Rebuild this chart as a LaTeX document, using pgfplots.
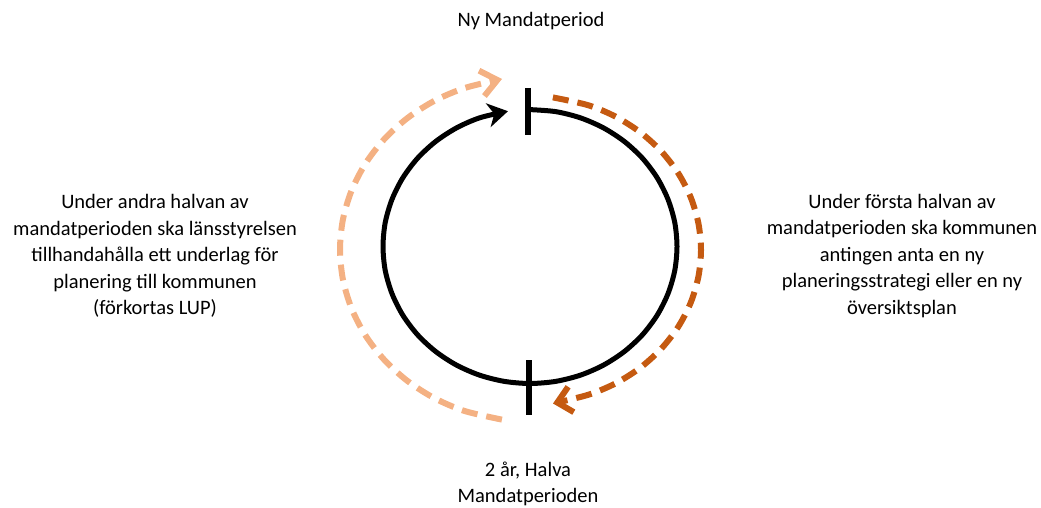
\documentclass[border=0pt]{standalone}
\usepackage{pgfplots}
\pgfplotsset{compat=1.18}
\usetikzlibrary{arrows.meta}
\usepackage{fontspec}
\setmainfont{Carlito}
\definecolor{lightor}{RGB}{244,177,131}
\definecolor{darkor}{RGB}{197,90,17}
\begin{document}
\begin{tikzpicture}
\begin{axis}[width=1041pt, height=508pt, scale only axis,
  xmin=0, xmax=1041, ymin=0, ymax=508, y dir=reverse,
  hide axis, clip=false]
% black cycle
\addplot[black, line width=5pt, smooth, -{Stealth[length=20pt,width=24pt,inset=6pt]}] coordinates {
(528,109.5) (555.5,111.6) (580.3,117.8) (603.5,127.9) (624.5,141.6) (642.6,158.4) (657.3,178.0) (668.1,199.6) (674.8,222.7) (677,246.5) (674.8,270.3) (668.1,293.4) (657.3,315.0) (642.6,334.6) (624.5,351.4) (603.5,365.1) (580.3,375.2) (555.5,381.4) (530,383.5) (504.5,381.4) (479.7,375.2) (456.5,365.1) (435.5,351.4) (417.4,334.6) (402.7,315.0) (391.9,293.4) (385.2,270.3) (383,246.5) (385.2,222.7) (391.9,199.6) (402.7,178.0) (417.4,158.4) (435.5,141.6) (456.5,127.9) (479.7,117.8) (508,111.2)
};
% ticks
\addplot[black, line width=6pt] coordinates {(528,88) (528,135)};
\addplot[black, line width=6pt] coordinates {(529,360) (529,415)};
% light dashed arc (left)
\addplot[lightor, line width=6pt, smooth, dash pattern=on 16pt off 9pt,
  -{Straight Barb[length=16pt,width=26pt]}] coordinates {
(501.9,419.6) (465,411.1) (435,398.5) (407.9,381.3) (384.5,360.1) (365.5,335.5) (351.5,308.3) (342.9,279.4) (340,249.5) (342.9,219.6) (351.5,190.7) (365.5,163.5) (384.5,138.9) (407.9,117.7) (435,100.5) (465,87.9) (502,79)
};
% dark dashed arc (right)
\addplot[darkor, line width=6pt, smooth, dash pattern=on 16pt off 9pt,
  -{Straight Barb[length=14pt,width=26pt]}] coordinates {
(552.9,97.4) (588.5,105.3) (615.5,116.6) (639.9,132.0) (661.0,151.0) (678.1,173.0) (690.7,197.3) (698.4,223.3) (701,250) (698.4,276.7) (690.7,302.7) (678.1,327.0) (661.0,349.0) (639.9,368.0) (615.5,383.4) (588.5,394.7) (553,403.5)
};
% texts
\node[anchor=base, font=\fontsize{20.5}{25.5}\selectfont] at (axis cs:531,27) {Ny Mandatperiod};
\node[align=center, font=\fontsize{20.5}{25.5}\selectfont] at (axis cs:528,484) {2 år, Halva\\Mandatperioden};
\node[align=center, font=\fontsize{20.5}{26.5}\selectfont] at (axis cs:155,256) {Under andra halvan av\\mandatperioden ska länsstyrelsen\\tillhandahålla ett underlag för\\planering till kommunen\\(förkortas LUP)};
\node[align=center, font=\fontsize{20.5}{26.5}\selectfont] at (axis cs:902,256) {Under första halvan av\\mandatperioden ska kommunen\\antingen anta en ny\\planeringsstrategi eller en ny\\översiktsplan};
\end{axis}
\pgfresetboundingbox
\path (0,0) rectangle (1041pt,508pt);
\end{tikzpicture}
\end{document}
